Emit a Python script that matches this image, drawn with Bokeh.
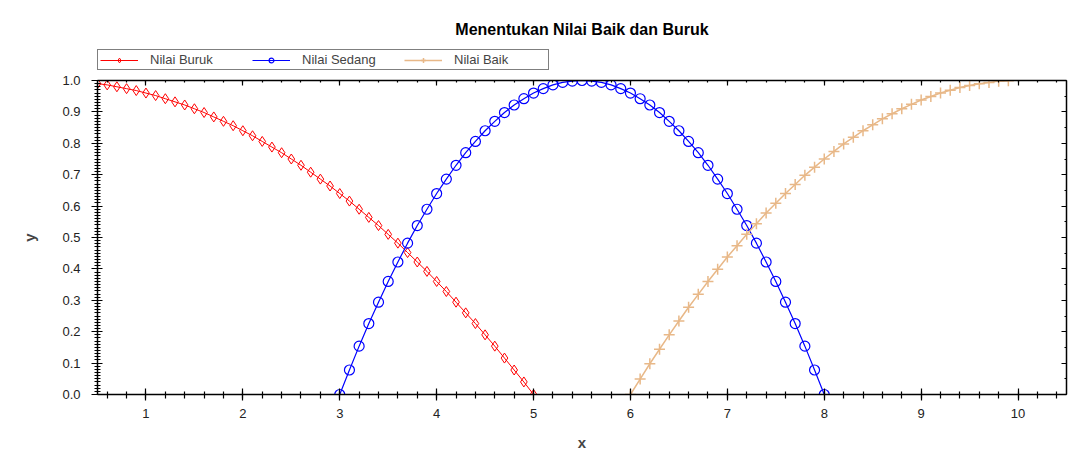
from bokeh.plotting import figure
from bokeh.layouts import column
from bokeh.models import (LinearAxis, Legend, LegendItem, Range1d,
                          SingleIntervalTicker, NumeralTickFormatter)
from bokeh.embed import file_html
from bokeh.resources import INLINE

title_text = "Menentukan Nilai Baik dan Buruk"
x_label = "x"
y_label = "y"
series_names = ["Nilai Buruk", "Nilai Sedang", "Nilai Baik"]

buruk_x = [0.5, 0.6, 0.7, 0.8, 0.9, 1.0, 1.1, 1.2, 1.3, 1.4, 1.5, 1.6, 1.7, 1.8,
           1.9, 2.0, 2.1, 2.2, 2.3, 2.4, 2.5, 2.6, 2.7, 2.8, 2.9, 3.0, 3.1, 3.2,
           3.3, 3.4, 3.5, 3.6, 3.7, 3.8, 3.9, 4.0, 4.1, 4.2, 4.3, 4.4, 4.5, 4.6,
           4.7, 4.8, 4.9, 5.0]
buruk_y = [0.990, 0.986, 0.980, 0.974, 0.968, 0.960, 0.952, 0.942, 0.932, 0.922,
           0.910, 0.898, 0.884, 0.870, 0.856, 0.840, 0.824, 0.806, 0.788, 0.770,
           0.750, 0.730, 0.708, 0.686, 0.664, 0.640, 0.616, 0.590, 0.564, 0.538,
           0.510, 0.482, 0.452, 0.422, 0.392, 0.360, 0.328, 0.294, 0.260, 0.226,
           0.190, 0.154, 0.116, 0.078, 0.040, 0.000]

sedang_x = [3.0, 3.1, 3.2, 3.3, 3.4, 3.5, 3.6, 3.7, 3.8, 3.9, 4.0, 4.1, 4.2, 4.3,
            4.4, 4.5, 4.6, 4.7, 4.8, 4.9, 5.0, 5.1, 5.2, 5.3, 5.4, 5.5, 5.6, 5.7,
            5.8, 5.9, 6.0, 6.1, 6.2, 6.3, 6.4, 6.5, 6.6, 6.7, 6.8, 6.9, 7.0, 7.1,
            7.2, 7.3, 7.4, 7.5, 7.6, 7.7, 7.8, 7.9, 8.0]
sedang_y = [0.000, 0.078, 0.154, 0.226, 0.294, 0.360, 0.422, 0.482, 0.538, 0.590,
            0.640, 0.686, 0.730, 0.770, 0.806, 0.840, 0.870, 0.898, 0.922, 0.942,
            0.960, 0.974, 0.986, 0.994, 0.998, 1.000, 0.998, 0.994, 0.986, 0.974,
            0.960, 0.942, 0.922, 0.898, 0.870, 0.840, 0.806, 0.770, 0.730, 0.686,
            0.640, 0.590, 0.538, 0.482, 0.422, 0.360, 0.294, 0.226, 0.154, 0.078,
            0.000]

baik_x = [6.0, 6.1, 6.2, 6.3, 6.4, 6.5, 6.6, 6.7, 6.8, 6.9, 7.0, 7.1, 7.2, 7.3,
          7.4, 7.5, 7.6, 7.7, 7.8, 7.9, 8.0, 8.1, 8.2, 8.3, 8.4, 8.5, 8.6, 8.7,
          8.8, 8.9, 9.0, 9.1, 9.2, 9.3, 9.4, 9.5, 9.6, 9.7, 9.8, 9.9]
baik_y = [0.000, 0.049, 0.098, 0.144, 0.190, 0.234, 0.278, 0.319, 0.360, 0.399,
          0.438, 0.474, 0.510, 0.544, 0.578, 0.609, 0.640, 0.669, 0.698, 0.724,
          0.750, 0.774, 0.798, 0.819, 0.840, 0.859, 0.878, 0.894, 0.910, 0.924,
          0.938, 0.949, 0.960, 0.969, 0.978, 0.984, 0.990, 0.994, 0.998, 0.999]

FONT = "Liberation Sans"
RED = "#FF0000"
BLUE = "#0000FF"
TAN = "#E8B888"

styles = [
    dict(color=RED, marker="diamond", size=10, lw=1.0, fill=None),
    dict(color=BLUE, marker="circle", size=10, lw=1.2, fill=None),
    dict(color=TAN, marker="cross", size=11, lw=1.5, fill=TAN),
]
all_x = [buruk_x, sedang_x, baik_x]
all_y = [buruk_y, sedang_y, baik_y]

# ---------------- header figure: title + legend ----------------
# same series are drawn here, outside the visible y range, only to feed the legend
head = figure(width=1078, height=70, output_backend="svg", toolbar_location=None,
              x_range=Range1d(0.5, 10.5), y_range=Range1d(5, 6),
              x_axis_location=None, y_axis_location=None,
              min_border_left=97, min_border_right=12, min_border_top=42,
              min_border_bottom=0, outline_line_color=None,
              background_fill_color="white", border_fill_color="white")
head.grid.visible = False
head.title.text = title_text
head.title.text_font = FONT
head.title.text_font_size = "16px"
head.title.text_font_style = "bold"
head.title.text_color = "black"
head.title.align = "center"
head.title.offset = -32

items = []
for name, xs, ys, st in zip(series_names, all_x, all_y, styles):
    rl = head.line(xs, ys, line_color=st["color"], line_width=st["lw"])
    rm = head.scatter(xs, ys, marker=st["marker"], size=st["size"],
                      fill_color=st["fill"], line_color=st["color"],
                      line_width=st["lw"])
    items.append(LegendItem(label=name, renderers=[rl, rm]))

legend = Legend(items=items, orientation="horizontal", location=(0, 0),
                label_text_font=FONT, label_text_font_size="13px",
                glyph_width=38, glyph_height=12, label_standoff=12, spacing=10,
                label_width=92, padding=2, margin=0, border_line_color="black",
                border_line_width=1.5, label_height=13)
head.add_layout(legend, "center")

# ---------------- main figure ----------------
p = figure(width=1078, height=385, output_backend="svg", toolbar_location=None,
           x_range=Range1d(0.5, 10.5), y_range=Range1d(0, 1.0),
           x_axis_location=None, y_axis_location=None,
           min_border_left=97, min_border_right=12, min_border_top=10,
           min_border_bottom=61, background_fill_color="white",
           border_fill_color="white", outline_line_color=None)
p.grid.visible = False

def style_axis(ax, labels=True):
    ax.axis_line_color = "black"
    ax.axis_line_width = 1.5
    ax.major_tick_line_color = "black"
    ax.minor_tick_line_color = "black"
    ax.major_tick_line_width = 1.2
    ax.minor_tick_line_width = 1.2
    ax.major_label_text_font = FONT
    ax.major_label_text_font_size = "13px"
    ax.major_label_text_color = "#222222"
    ax.axis_label_text_font = FONT
    ax.axis_label_text_font_size = "15px"
    ax.axis_label_text_font_style = "bold"
    if not labels:
        ax.major_label_text_font_size = "0px"
        ax.major_label_text_color = None

xb = LinearAxis(ticker=SingleIntervalTicker(interval=1, num_minor_ticks=5),
                axis_label=x_label)
style_axis(xb)
xb.major_tick_in = 6; xb.major_tick_out = 6
xb.minor_tick_in = 3; xb.minor_tick_out = 4
xb.major_label_standoff = 8
xb.axis_label_standoff = 13
p.add_layout(xb, "below")

yl = LinearAxis(ticker=SingleIntervalTicker(interval=0.1, num_minor_ticks=10),
                axis_label=y_label,
                formatter=NumeralTickFormatter(format="0.0"))
style_axis(yl)
yl.major_tick_in = 5; yl.major_tick_out = 6
yl.minor_tick_in = 3; yl.minor_tick_out = 3
yl.major_label_standoff = 11
yl.axis_label_standoff = 21
p.add_layout(yl, "left")

xa = LinearAxis(ticker=SingleIntervalTicker(interval=1, num_minor_ticks=5))
style_axis(xa, labels=False)
xa.major_tick_in = 5; xa.major_tick_out = 0
xa.minor_tick_in = 2; xa.minor_tick_out = 0
xa.major_label_standoff = 0
p.add_layout(xa, "above")

yr = LinearAxis(ticker=SingleIntervalTicker(interval=0.1, num_minor_ticks=2))
style_axis(yr, labels=False)
yr.major_tick_in = 5; yr.major_tick_out = 0
yr.minor_tick_in = 2; yr.minor_tick_out = 0
yr.major_label_standoff = 0
p.add_layout(yr, "right")

for xs, ys, st in zip(all_x, all_y, styles):
    p.line(xs, ys, line_color=st["color"], line_width=st["lw"])
    p.scatter(xs, ys, marker=st["marker"], size=st["size"],
              fill_color=st["fill"], line_color=st["color"],
              line_width=st["lw"])

layout = column(head, p, spacing=0)
open("out.html", "w").write(file_html(layout, INLINE))
